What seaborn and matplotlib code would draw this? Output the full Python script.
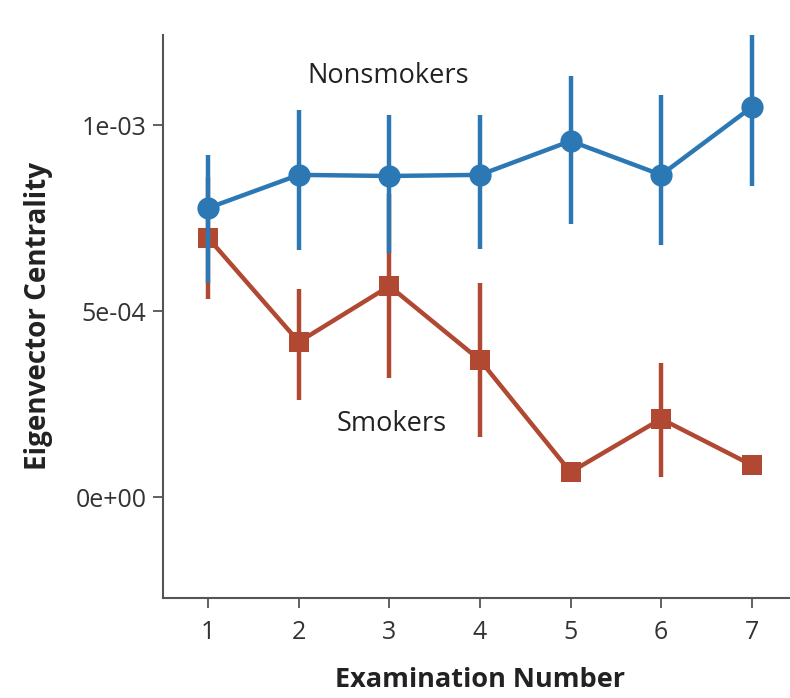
import numpy as np
import pandas as pd
import matplotlib
matplotlib.use("Agg")
import matplotlib.pyplot as plt
import seaborn as sns

# ---- data ----
exams = [1, 2, 3, 4, 5, 6, 7]
nonsmokers_mean = [0.777e-3, 0.866e-3, 0.863e-3, 0.866e-3, 0.957e-3, 0.866e-3, 1.048e-3]
nonsmokers_lo = [0.575e-3, 0.664e-3, 0.656e-3, 0.667e-3, 0.734e-3, 0.677e-3, 0.836e-3]
nonsmokers_hi = [0.919e-3, 1.040e-3, 1.027e-3, 1.027e-3, 1.132e-3, 1.081e-3, 1.301e-3]
smokers_mean = [0.696e-3, 0.417e-3, 0.567e-3, 0.368e-3, 0.067e-3, 0.210e-3, 0.086e-3]
smokers_lo = [0.532e-3, 0.261e-3, 0.320e-3, 0.161e-3, 0.067e-3, 0.054e-3, 0.086e-3]
smokers_hi = [0.860e-3, 0.559e-3, 0.815e-3, 0.575e-3, 0.067e-3, 0.360e-3, 0.086e-3]
groups = ["Smokers", "Nonsmokers"]
y_ticks = [0.0, 5e-4, 1e-3]
y_ticklabels = ["0e+00", "5e-04", "1e-03"]

BLUE = "#2b78b5"
RED = "#b04832"
GRAY = "#555555"

df = pd.concat([
    pd.DataFrame({"exam": exams, "value": smokers_mean, "lo": smokers_lo,
                  "hi": smokers_hi, "group": "Smokers"}),
    pd.DataFrame({"exam": exams, "value": nonsmokers_mean, "lo": nonsmokers_lo,
                  "hi": nonsmokers_hi, "group": "Nonsmokers"}),
], ignore_index=True)

sns.set_style("white")
plt.rcParams["font.family"] = ["Open Sans", "DejaVu Sans"]

fig = plt.figure(figsize=(7.9, 6.98), dpi=100)
ax = fig.add_axes([163 / 790, 100 / 698, 634 / 790, 563 / 698])

palette = {"Smokers": RED, "Nonsmokers": BLUE}
markers = {"Smokers": "s", "Nonsmokers": "o"}
msizes = {"Smokers": 15, "Nonsmokers": 16}

for i, g in enumerate(groups):
    sub = df[df["group"] == g]
    z = 2 + 2 * i
    ax.vlines(sub["exam"], sub["lo"], sub["hi"], color=palette[g], lw=3.2, zorder=z)
    sns.lineplot(data=sub, x="exam", y="value", color=palette[g], marker=markers[g],
                 markersize=msizes[g], markeredgewidth=0, lw=3.2, ax=ax,
                 legend=False, zorder=z + 1)

ax.text(2.99, 1.132e-3, "Nonsmokers", ha="center", va="center", fontsize=19.5, color="#222222")
ax.text(3.03, 0.196e-3, "Smokers", ha="center", va="center", fontsize=19.5, color="#222222")

ax.set_xlim(0.5, 7.5)
ax.set_ylim(-0.2715e-3, 1.242e-3)
ax.set_xticks(exams)
ax.set_xticklabels([str(e) for e in exams])
ax.set_yticks(y_ticks)
ax.set_yticklabels(y_ticklabels)

ax.set_xlabel("Examination Number", fontsize=19.5, fontweight="bold", color="#222222", labelpad=16)
ax.set_ylabel("Eigenvector Centrality", fontsize=20, fontweight="bold", color="#222222", labelpad=16)

for s in ["top", "right"]:
    ax.spines[s].set_visible(False)
for s in ["left", "bottom"]:
    ax.spines[s].set_color(GRAY)
    ax.spines[s].set_linewidth(1.5)
ax.tick_params(axis="both", direction="out", length=7, width=1.3, color=GRAY,
               labelsize=18, labelcolor="#333333", left=True, bottom=True)
ax.tick_params(axis="x", pad=9)
ax.tick_params(axis="y", pad=5)

fig.savefig("out.png", dpi=100)
